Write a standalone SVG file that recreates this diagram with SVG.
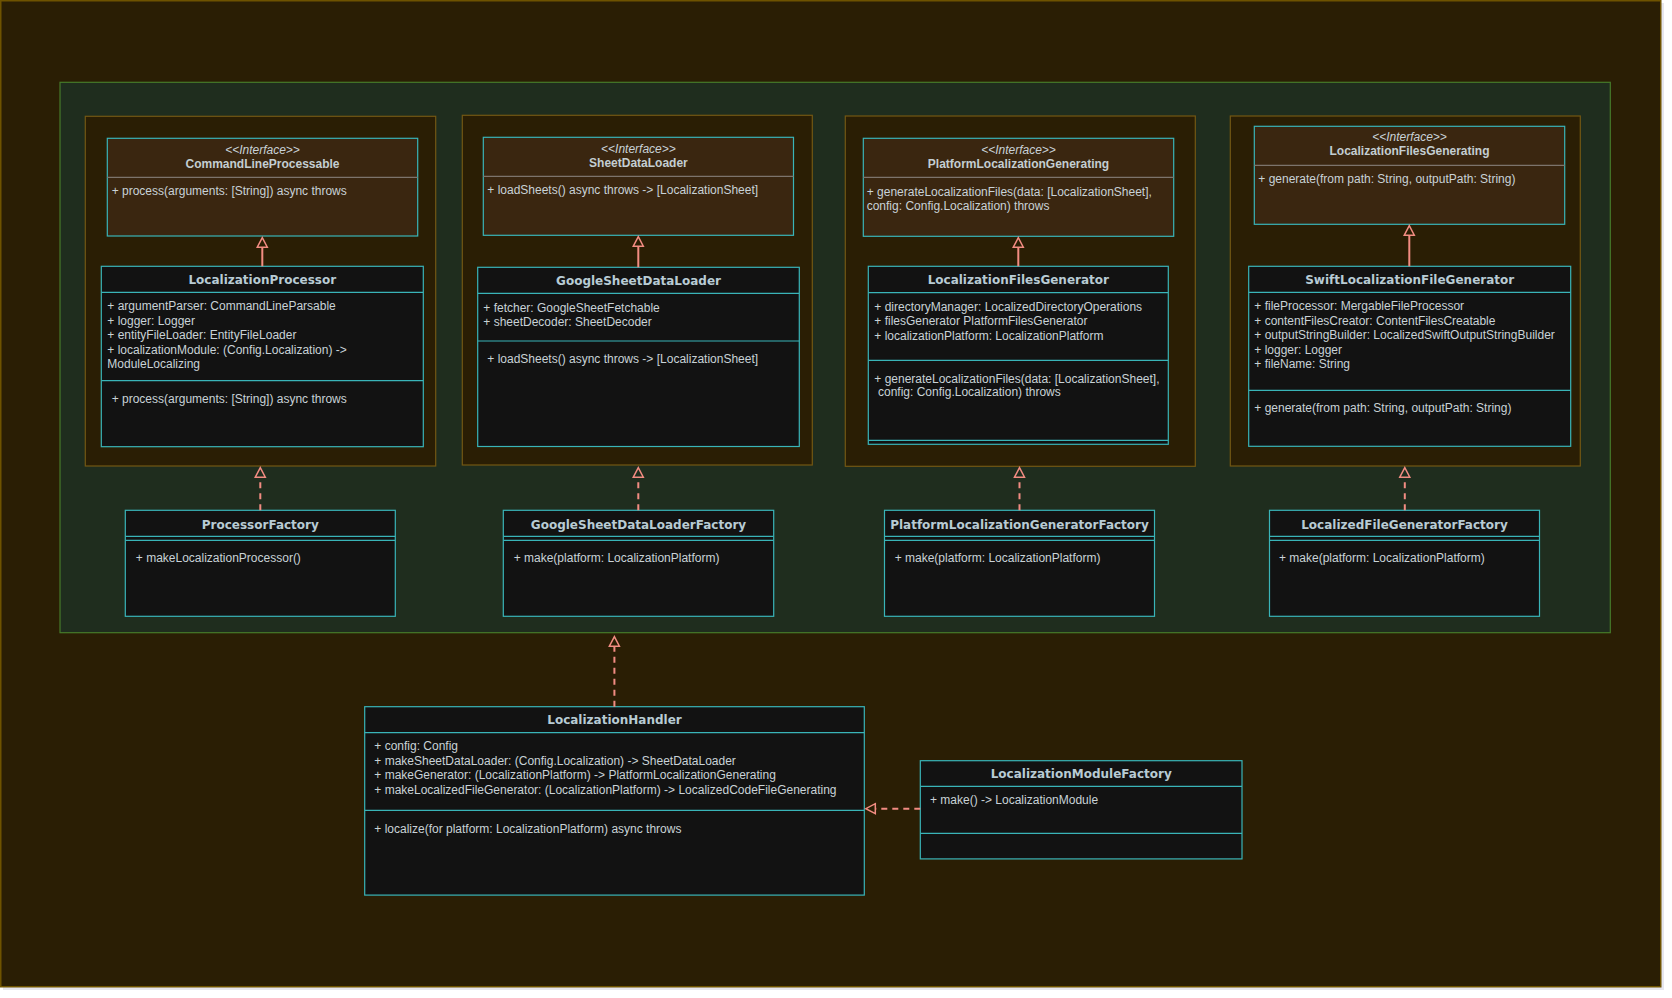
<svg xmlns="http://www.w3.org/2000/svg" width="1672" height="998" viewBox="0 0 1672 998">
<style>
.bg{fill:#2a1e04;stroke:#6e5300;stroke-width:1.5}
.grp{fill:#1f2d1e;stroke:#467a2a;stroke-width:1.2}
.pkg{fill:#2a1e04;stroke:#735713;stroke-width:1.2}
.ifc{fill:#3a2610;stroke:#39b4b8;stroke-width:1.2}
.cls{fill:#121212;stroke:#39b4b8;stroke-width:1.2}
.sepg{stroke:#7d746c;stroke-width:1.2}
.sep{stroke:#39b4b8;stroke-width:1.2}
.t{font-family:"Liberation Sans",Arial,sans-serif;font-size:12px;fill:#c9d2d7}
.st{font-family:"Liberation Sans",Arial,sans-serif;font-size:12px;font-style:italic;text-anchor:middle;fill:#c9d2d7}
.it{font-family:"Liberation Sans",Arial,sans-serif;font-size:12px;font-weight:bold;text-anchor:middle;fill:#c4ced2}
.ct{font-family:"DejaVu Sans",sans-serif;font-size:12px;font-weight:bold;text-anchor:middle;fill:#b8cbd4}
.real{fill:none;stroke:#f28c82;stroke-width:2;marker-end:url(#tri)}
.dep{fill:none;stroke:#f28c82;stroke-width:2;stroke-dasharray:6 5;marker-end:url(#tri)}
</style>
<defs>
<marker id="tri" markerUnits="userSpaceOnUse" orient="auto" refX="0" refY="0" markerWidth="12" markerHeight="12" overflow="visible">
<path d="M0,-5 L9.5,0 L0,5 Z" fill="none" stroke="#f28c82" stroke-width="1.5" stroke-dasharray="none"/>
</marker>
</defs>
<rect x="0" y="0" width="1672" height="998" fill="#ffffff"/>
<rect x="3" y="3" width="1661" height="987" fill="#e6e6ee"/>
<rect class="bg" x="0.75" y="0.75" width="1660" height="986"/>

<g id="container">
<rect class="grp" x="60" y="82.3" width="1550.3" height="550.4"/>
</g>

<g id="pkg1"><rect class="pkg" x="85.3" y="116.3" width="350.4" height="349.7"/></g>
<g id="pkg2"><rect class="pkg" x="462.3" y="115.3" width="350" height="349.7"/></g>
<g id="pkg3"><rect class="pkg" x="845.3" y="116" width="350" height="350.3"/></g>
<g id="pkg4"><rect class="pkg" x="1230.3" y="116" width="350" height="350"/></g>

<g id="CommandLineProcessable">
<rect class="ifc" x="107.3" y="138.3" width="310.4" height="97.7"/>
<line class="sepg" x1="107.3" y1="177.3" x2="417.7" y2="177.3"/>
<text class="st" x="262.5" y="153.5">&lt;&lt;Interface&gt;&gt;</text>
<text class="it" x="262.5" y="167.5">CommandLineProcessable</text>
<text class="t" x="111.7" y="195.3">+ process(arguments: [String]) async throws</text>
</g>

<g id="SheetDataLoader">
<rect class="ifc" x="483.3" y="137.3" width="310.2" height="98"/>
<line class="sepg" x1="483.3" y1="176.3" x2="793.5" y2="176.3"/>
<text class="st" x="638.4" y="152.5">&lt;&lt;Interface&gt;&gt;</text>
<text class="it" x="638.4" y="166.5">SheetDataLoader</text>
<text class="t" x="487.3" y="194.3">+ loadSheets() async throws -&gt; [LocalizationSheet]</text>
</g>

<g id="PlatformLocalizationGenerating">
<rect class="ifc" x="863.3" y="138.3" width="310.4" height="98"/>
<line class="sepg" x1="863.3" y1="177.3" x2="1173.7" y2="177.3"/>
<text class="st" x="1018.5" y="153.5">&lt;&lt;Interface&gt;&gt;</text>
<text class="it" x="1018.5" y="167.5">PlatformLocalizationGenerating</text>
<text class="t" x="866.7" y="196">+ generateLocalizationFiles(data: [LocalizationSheet],</text>
<text class="t" x="866.7" y="209.5">config: Config.Localization) throws</text>
</g>

<g id="LocalizationFilesGenerating">
<rect class="ifc" x="1254.3" y="126.3" width="310.4" height="98"/>
<line class="sepg" x1="1254.3" y1="165.3" x2="1564.7" y2="165.3"/>
<text class="st" x="1409.5" y="141.3">&lt;&lt;Interface&gt;&gt;</text>
<text class="it" x="1409.5" y="155.3">LocalizationFilesGenerating</text>
<text class="t" x="1258.3" y="183.3">+ generate(from path: String, outputPath: String)</text>
</g>

<g id="LocalizationProcessor">
<rect class="cls" x="101.3" y="266.3" width="322" height="180.4"/>
<line class="sep" x1="101.3" y1="292.3" x2="423.3" y2="292.3"/>
<line class="sep" x1="101.3" y1="380.7" x2="423.3" y2="380.7"/>
<text class="ct" x="262.3" y="284.3">LocalizationProcessor</text>
<text class="t" x="107.3" y="310.3">+ argumentParser: CommandLineParsable</text>
<text class="t" x="107.3" y="324.8">+ logger: Logger</text>
<text class="t" x="107.3" y="339.3">+ entityFileLoader: EntityFileLoader</text>
<text class="t" x="107.3" y="353.8">+ localizationModule: (Config.Localization) -&gt;</text>
<text class="t" x="107.3" y="368.3">ModuleLocalizing</text>
<text class="t" x="111.7" y="402.7">+ process(arguments: [String]) async throws</text>
</g>

<g id="GoogleSheetDataLoader">
<rect class="cls" x="477.7" y="267.3" width="321.6" height="179.2"/>
<line class="sep" x1="477.7" y1="293.3" x2="799.3" y2="293.3"/>
<line class="sep" x1="477.7" y1="341" x2="799.3" y2="341"/>
<text class="ct" x="638.5" y="285.3">GoogleSheetDataLoader</text>
<text class="t" x="483.3" y="311.7">+ fetcher: GoogleSheetFetchable</text>
<text class="t" x="483.3" y="325.5">+ sheetDecoder: SheetDecoder</text>
<text class="t" x="487.3" y="363.3">+ loadSheets() async throws -&gt; [LocalizationSheet]</text>
</g>

<g id="LocalizationFilesGenerator">
<rect class="cls" x="868.3" y="266.3" width="300" height="178"/>
<line class="sep" x1="868.3" y1="292.7" x2="1168.3" y2="292.7"/>
<line class="sep" x1="868.3" y1="360.3" x2="1168.3" y2="360.3"/>
<line class="sep" x1="868.3" y1="440.3" x2="1168.3" y2="440.3"/>
<text class="ct" x="1018.3" y="284.3">LocalizationFilesGenerator</text>
<text class="t" x="874.3" y="310.7">+ directoryManager: LocalizedDirectoryOperations</text>
<text class="t" x="874.3" y="325.2">+ filesGenerator PlatformFilesGenerator</text>
<text class="t" x="874.3" y="339.7">+ localizationPlatform: LocalizationPlatform</text>
<text class="t" x="874.3" y="382.7">+ generateLocalizationFiles(data: [LocalizationSheet],</text>
<text class="t" x="878" y="396.3">config: Config.Localization) throws</text>
</g>

<g id="SwiftLocalizationFileGenerator">
<rect class="cls" x="1248.7" y="266.3" width="322" height="180"/>
<line class="sep" x1="1248.7" y1="292.3" x2="1570.7" y2="292.3"/>
<line class="sep" x1="1248.7" y1="390.3" x2="1570.7" y2="390.3"/>
<text class="ct" x="1409.7" y="284.3">SwiftLocalizationFileGenerator</text>
<text class="t" x="1254.3" y="310.3">+ fileProcessor: MergableFileProcessor</text>
<text class="t" x="1254.3" y="324.8">+ contentFilesCreator: ContentFilesCreatable</text>
<text class="t" x="1254.3" y="339.3">+ outputStringBuilder: LocalizedSwiftOutputStringBuilder</text>
<text class="t" x="1254.3" y="353.8">+ logger: Logger</text>
<text class="t" x="1254.3" y="368.3">+ fileName: String</text>
<text class="t" x="1254.3" y="411.7">+ generate(from path: String, outputPath: String)</text>
</g>

<g id="ProcessorFactory">
<rect class="cls" x="125.3" y="510.3" width="270" height="106"/>
<line class="sep" x1="125.3" y1="536.3" x2="395.3" y2="536.3"/>
<line class="sep" x1="125.3" y1="540.3" x2="395.3" y2="540.3"/>
<text class="ct" x="260.3" y="528.5">ProcessorFactory</text>
<text class="t" x="135.8" y="562.3">+ makeLocalizationProcessor()</text>
</g>

<g id="GoogleSheetDataLoaderFactory">
<rect class="cls" x="503.3" y="510.3" width="270.4" height="106"/>
<line class="sep" x1="503.3" y1="536.3" x2="773.7" y2="536.3"/>
<line class="sep" x1="503.3" y1="540.3" x2="773.7" y2="540.3"/>
<text class="ct" x="638.5" y="528.5">GoogleSheetDataLoaderFactory</text>
<text class="t" x="513.7" y="562.3">+ make(platform: LocalizationPlatform)</text>
</g>

<g id="PlatformLocalizationGeneratorFactory">
<rect class="cls" x="884.5" y="510.3" width="270" height="106"/>
<line class="sep" x1="884.5" y1="536.3" x2="1154.5" y2="536.3"/>
<line class="sep" x1="884.5" y1="540.3" x2="1154.5" y2="540.3"/>
<text class="ct" x="1019.5" y="528.5">PlatformLocalizationGeneratorFactory</text>
<text class="t" x="894.7" y="562.3">+ make(platform: LocalizationPlatform)</text>
</g>

<g id="LocalizedFileGeneratorFactory">
<rect class="cls" x="1269.5" y="510.3" width="270" height="106"/>
<line class="sep" x1="1269.5" y1="536.3" x2="1539.5" y2="536.3"/>
<line class="sep" x1="1269.5" y1="540.3" x2="1539.5" y2="540.3"/>
<text class="ct" x="1404.5" y="528.5">LocalizedFileGeneratorFactory</text>
<text class="t" x="1279" y="562.3">+ make(platform: LocalizationPlatform)</text>
</g>

<g id="LocalizationHandler">
<rect class="cls" x="364.7" y="706.7" width="499.6" height="188.4"/>
<line class="sep" x1="364.7" y1="732.7" x2="864.3" y2="732.7"/>
<line class="sep" x1="364.7" y1="810.3" x2="864.3" y2="810.3"/>
<text class="ct" x="614.5" y="724.3">LocalizationHandler</text>
<text class="t" x="374.3" y="750.3">+ config: Config</text>
<text class="t" x="374.3" y="764.7">+ makeSheetDataLoader: (Config.Localization) -&gt; SheetDataLoader</text>
<text class="t" x="374.3" y="779.1">+ makeGenerator: (LocalizationPlatform) -&gt; PlatformLocalizationGenerating</text>
<text class="t" x="374.3" y="793.5">+ makeLocalizedFileGenerator: (LocalizationPlatform) -&gt; LocalizedCodeFileGenerating</text>
<text class="t" x="374.3" y="832.7">+ localize(for platform: LocalizationPlatform) async throws</text>
</g>

<g id="LocalizationModuleFactory">
<rect class="cls" x="920.3" y="760.7" width="321.7" height="98.2"/>
<line class="sep" x1="920.3" y1="786.3" x2="1242" y2="786.3"/>
<line class="sep" x1="920.3" y1="833.3" x2="1242" y2="833.3"/>
<text class="ct" x="1081.2" y="778">LocalizationModuleFactory</text>
<text class="t" x="930" y="804">+ make() -&gt; LocalizationModule</text>
</g>

<g id="connectors">
<path id="c1" class="real" d="M262.3,266.3 V247.2"/>
<path id="c2" class="real" d="M638.3,267.3 V246.2"/>
<path id="c3" class="real" d="M1018.3,266.3 V247.2"/>
<path id="c4" class="real" d="M1409.3,266.3 V235.2"/>
<path id="c5" class="dep" d="M260.3,510.3 V477.2"/>
<path id="c6" class="dep" d="M638.3,510.3 V477.2"/>
<path id="c7" class="dep" d="M1019.5,510.3 V477.2"/>
<path id="c8" class="dep" d="M1404.8,510.3 V477.2"/>
<path id="c9" class="dep" d="M614.4,706.7 V646.2"/>
<path id="c10" class="dep" d="M920.3,808.7 H875.3"/>
</g>
</svg>
